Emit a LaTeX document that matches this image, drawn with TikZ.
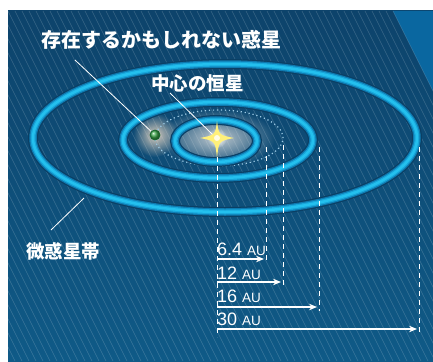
\documentclass[tikz,border=0pt]{standalone}
\usepackage{fontspec}
\setmainfont{Liberation Sans}
\newfontfamily\jp{Noto Sans CJK JP}
\usetikzlibrary{arrows.meta,fadings}

\definecolor{paneltop}{HTML}{0D436B}
\definecolor{panelbot}{HTML}{0F5A87}
\definecolor{corner}{HTML}{0A67A0}
\definecolor{ringshade}{HTML}{0B3F64}
\definecolor{ringedge}{HTML}{0F78AE}
\definecolor{ringmid}{HTML}{18A6DA}
\definecolor{ringcore}{HTML}{24C0EE}
\definecolor{orbitdot}{HTML}{9CCBE6}
\definecolor{starfill}{HTML}{FFF07A}
\definecolor{planetgreen}{HTML}{3DA64A}
\definecolor{planetrim}{HTML}{16682E}

% soft radial glow
\tikzfading[name=glow, inner color=transparent!0, outer color=transparent!100]

\newcommand\auunit{{\fontsize{13.5pt}{14pt}\selectfont AU}}

\tikzset{
  hatch/.style={white, opacity=.18, line width=.6pt},
  orbit/.style={orbitdot, line width=1.2pt, dash pattern=on 1.2pt off 2.8pt},
  guide/.style={white, line width=1pt, dash pattern=on 5pt off 4pt},
  leader/.style={white, line width=.8pt},
  jplabel/.style={white, inner sep=0pt, anchor=west},
  aulabel/.style={white, inner sep=0pt, anchor=base west, font=\fontsize{18pt}{20pt}\selectfont},
  auarrow/.style={white, line width=1.4pt, -{Stealth[length=8pt,width=6.5pt]}},
}

\begin{document}
\begin{tikzpicture}[x=1pt,y=-1pt]
\useasboundingbox (0,0) rectangle (433,361);
\fill[white] (0,0) rectangle (433,361);

% panel, plain corner and hatching
\shade[top color=paneltop, bottom color=panelbot] (8,11) rectangle (433,361);
\fill[corner] (393,11) -- (433,11) -- (433,91) -- cycle;
\begin{scope}
  \clip (8,11) rectangle (433,361);
  \foreach \k in {0,...,80}
    \draw[hatch] ({393-7*\k},11) -- ++(175,350);
\end{scope}

% glows round the star and the planet
\coordinate (star) at (217,138);
\coordinate (planetpos) at (155,135);
\fill[white!75!gray, fill opacity=.85, path fading=glow] (star) ellipse [x radius=58pt, y radius=29pt];
\fill[orange!20!white, fill opacity=.85, path fading=glow] (planetpos) circle (22pt);

% orbit of the planet
\draw[orbit] (219,138) ellipse [x radius=64pt, y radius=28pt];

% belts
\foreach \w/\c in {10pt/ringshade, 7.5pt/ringedge, 5pt/ringmid, 2.5pt/ringcore} {
  \draw[line width=\w, \c] (225,138) ellipse [x radius=192pt, y radius=74pt];
  \draw[line width=\w, \c] (218,140) ellipse [x radius=95pt, y radius=38pt];
  \draw[line width=\w, \c] (216,141) ellipse [x radius=41pt, y radius=21pt];
}

% guides down from each radius
\foreach \n/\x/\yt/\yb in {g0/217/157/337, g1/266/147/263, g2/283/145/288, g3/319/147/311, g4/419/147/335} {
  \coordinate (\n t) at (\x,\yt);
  \coordinate (\n b) at (\x,\yb);
  \draw[guide] (\n t) -- (\n b);
}

% labels and leaders
\node[jplabel, font=\jp\bfseries\fontsize{20pt}{22pt}\selectfont] (planetlbl) at (41,40) {存在するかもしれない惑星};
\node[jplabel, font=\jp\bfseries\fontsize{18.5pt}{20pt}\selectfont] (starlbl) at (151,83) {中心の恒星};
\node[jplabel, font=\jp\bfseries\fontsize{18.5pt}{20pt}\selectfont] (beltlbl) at (26,251) {微惑星帯};

\node[circle, inner sep=0pt, minimum size=10pt, draw=planetrim, line width=.8pt,
      shading=ball, ball color=planetgreen] (planet) at (planetpos) {};

\coordinate (planetend) at (75,60);
\coordinate (starend) at (170,93);
\coordinate (starpt) at (213,135);
\coordinate (beltend) at (51,230);
\coordinate (beltpt) at (84,198);
\draw[leader] (planetend) -- (planet);
\draw[leader] (starend) -- (starpt);
\draw[leader] (beltend) -- (beltpt);

% the star
\fill[white, path fading=glow] (star) circle (10pt);
\begin{scope}[shift={(star)}]
  \fill[starfill] (0,-17) .. controls (1.8,-3) .. (17,0)
    .. controls (1.8,3) .. (0,20) .. controls (-1.8,3) .. (-17,0)
    .. controls (-1.8,-3) .. (0,-17) -- cycle;
  \fill[white, opacity=.8] (0,0) circle (3pt);
\end{scope}

% distances
\node[aulabel] (au64) at (217,255) {6.4 \auunit};
\node[aulabel] (au12) at (217,279) {12 \auunit};
\node[aulabel] (au16) at (217,302) {16 \auunit};
\node[aulabel] (au30) at (217,325) {30 \auunit};
\coordinate (s64) at (217,259); \coordinate (e64) at (264,259);
\coordinate (s12) at (217,282); \coordinate (e12) at (281,282);
\coordinate (s16) at (217,307); \coordinate (e16) at (317,307);
\coordinate (s30) at (217,329); \coordinate (e30) at (417,329);
\draw[auarrow] (s64) -- (e64);
\draw[auarrow] (s12) -- (e12);
\draw[auarrow] (s16) -- (e16);
\draw[auarrow] (s30) -- (e30);
\end{tikzpicture}
\end{document}
